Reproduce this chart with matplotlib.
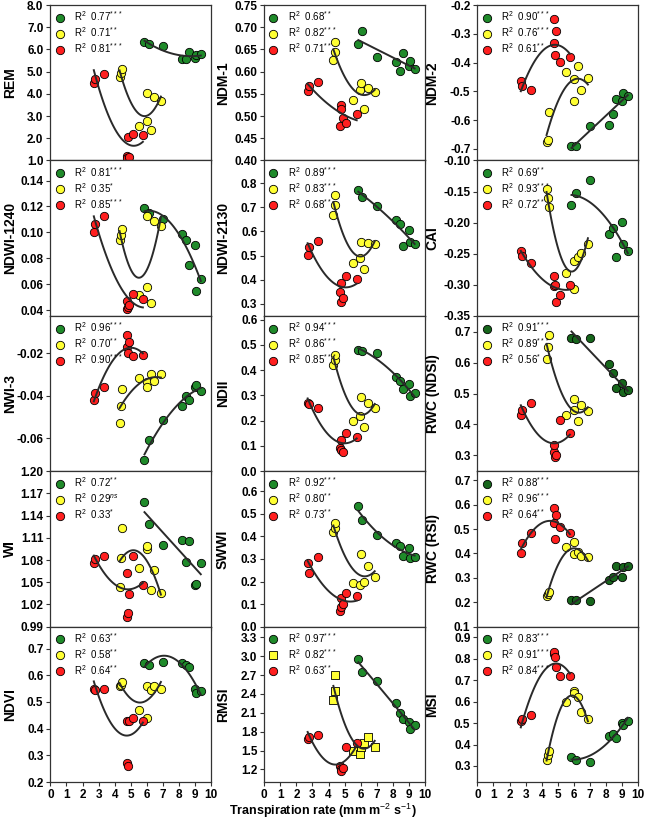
import matplotlib
matplotlib.use("Agg")
import matplotlib.pyplot as plt
import numpy as np
from matplotlib.lines import Line2D
from matplotlib.ticker import FormatStrFormatter

plt.rcParams['font.family'] = ['Liberation Sans', 'DejaVu Sans']
plt.rcParams['mathtext.fontset'] = 'custom'
plt.rcParams['mathtext.rm'] = 'Liberation Sans'
plt.rcParams['mathtext.it'] = 'Liberation Sans:italic'
plt.rcParams['mathtext.bf'] = 'Liberation Sans:bold'

# transpiration rate of the three groups (shared by all panels)
green_x = [5.85, 6.1, 7.0, 8.2, 8.45, 8.6, 9.0, 9.05, 9.35]
yellow_x = [4.3, 4.37, 4.43, 5.53, 5.98, 6.03, 6.23, 6.43, 6.87]
red_x = [2.7, 2.78, 3.36, 4.74, 4.77, 4.8, 4.89, 5.11, 5.75]

rem_g = [6.35, 6.25, 6.15, 5.55, 5.55, 5.9, 5.6, 5.75, 5.8]
rem_y = [4.75, 4.93, 5.12, 2.55, 2.78, 4.05, 2.38, 3.84, 3.67]
rem_r = [4.49, 4.69, 4.89, 1.19, 1.10, 2.04, 1.14, 2.21, 2.15]

ndm1_g = [0.662, 0.692, 0.632, 0.622, 0.602, 0.643, 0.613, 0.624, 0.605]
ndm1_y = [0.626, 0.645, 0.666, 0.536, 0.559, 0.575, 0.517, 0.564, 0.555]
ndm1_r = [0.557, 0.568, 0.577, 0.478, 0.524, 0.515, 0.496, 0.485, 0.504]

ndm2_g = [-0.69, -0.69, -0.62, -0.615, -0.58, -0.525, -0.535, -0.505, -0.515]
ndm2_y = [-0.675, -0.67, -0.573, -0.433, -0.534, -0.456, -0.413, -0.496, -0.454]
ndm2_r = [-0.463, -0.481, -0.496, -0.33, -0.25, -0.374, -0.289, -0.398, -0.382]

ndwi1240_g = [0.1186, 0.1147, 0.1104, 0.0988, 0.0944, 0.0748, 0.0905, 0.0550, 0.0642]
ndwi1240_y = [0.0941, 0.0982, 0.1024, 0.0513, 0.0575, 0.1124, 0.0454, 0.1086, 0.1052]
ndwi1240_r = [0.1006, 0.1065, 0.1124, 0.0467, 0.0405, 0.0425, 0.0439, 0.0524, 0.0488]

ndwi2130_g = [0.770, 0.742, 0.707, 0.648, 0.632, 0.538, 0.607, 0.558, 0.549]
ndwi2130_y = [0.669, 0.710, 0.749, 0.469, 0.491, 0.558, 0.445, 0.553, 0.547]
ndwi2130_r = [0.503, 0.535, 0.562, 0.348, 0.307, 0.387, 0.325, 0.416, 0.404]

cai_g = [-0.172, -0.152, -0.131, -0.219, -0.209, -0.255, -0.199, -0.235, -0.245]
cai_y = [-0.146, -0.161, -0.175, -0.281, -0.261, -0.307, -0.255, -0.249, -0.235]
cai_r = [-0.245, -0.254, -0.265, -0.286, -0.302, -0.300, -0.327, -0.317, -0.301]

nwi3_g = [-0.0705, -0.0611, -0.0517, -0.0448, -0.0400, -0.0420, -0.0360, -0.0348, -0.0380]
nwi3_y = [-0.0528, -0.0450, -0.0369, -0.0317, -0.0338, -0.0358, -0.0298, -0.0330, -0.0298]
nwi3_r = [-0.0419, -0.0389, -0.0358, -0.0173, -0.0116, -0.0200, -0.0147, -0.0216, -0.0208]

ndii_g = [0.479, 0.476, 0.470, 0.374, 0.358, 0.324, 0.345, 0.299, 0.311]
ndii_y = [0.420, 0.439, 0.461, 0.197, 0.220, 0.292, 0.176, 0.270, 0.250]
ndii_r = [0.272, 0.266, 0.250, 0.092, 0.124, 0.085, 0.078, 0.150, 0.137]

rwcn_g = [0.680, 0.678, 0.680, 0.596, 0.566, 0.517, 0.534, 0.506, 0.512]
rwcn_y = [0.612, 0.652, 0.690, 0.429, 0.447, 0.483, 0.410, 0.463, 0.445]
rwcn_r = [0.429, 0.448, 0.469, 0.309, 0.334, 0.295, 0.302, 0.415, 0.373]

wi_g = [1.158, 1.129, 1.101, 1.107, 1.077, 1.106, 1.046, 1.048, 1.076]
wi_y = [1.043, 1.083, 1.123, 1.069, 1.095, 1.099, 1.039, 1.066, 1.035]
wi_r = [1.076, 1.081, 1.086, 1.063, 1.003, 1.008, 1.034, 1.086, 1.046]

swwi_g = [0.533, 0.471, 0.407, 0.370, 0.356, 0.313, 0.348, 0.304, 0.309]
swwi_y = [0.419, 0.438, 0.459, 0.193, 0.186, 0.322, 0.196, 0.270, 0.218]
swwi_r = [0.281, 0.239, 0.307, 0.070, 0.126, 0.085, 0.100, 0.147, 0.134]

rwcr_g = [0.209, 0.209, 0.206, 0.292, 0.302, 0.349, 0.305, 0.346, 0.349]
rwcr_y = [0.226, 0.235, 0.243, 0.426, 0.398, 0.446, 0.405, 0.391, 0.384]
rwcr_r = [0.402, 0.443, 0.485, 0.588, 0.526, 0.460, 0.557, 0.508, 0.483]

ndvi_g = [0.645, 0.64, 0.65, 0.645, 0.64, 0.63, 0.55, 0.535, 0.54]
ndvi_y = [0.56, 0.565, 0.575, 0.47, 0.44, 0.56, 0.545, 0.56, 0.55]
ndvi_r = [0.55, 0.545, 0.55, 0.43, 0.27, 0.26, 0.43, 0.44, 0.43]

rmsi_g = [2.95, 2.75, 2.6, 2.25, 2.1, 2.0, 1.95, 1.85, 1.9]
rmsi_y = [2.3, 2.45, 2.7, 1.5, 1.45, 1.55, 1.62, 1.72, 1.55]
rmsi_r = [1.68, 1.72, 1.75, 1.25, 1.2, 1.17, 1.22, 1.55, 1.62]

msi_g = [0.34, 0.33, 0.32, 0.44, 0.45, 0.43, 0.50, 0.49, 0.51]
msi_y = [0.33, 0.35, 0.37, 0.60, 0.65, 0.64, 0.62, 0.55, 0.52]
msi_r = [0.51, 0.52, 0.54, 0.82, 0.83, 0.81, 0.76, 0.72, 0.72]

names = ['REM', 'NDM-1', 'NDM-2', 'NDWI-1240', 'NDWI-2130', 'CAI',
         'NWI-3', 'NDII', 'RWC (NDSI)', 'WI', 'SWWI', 'RWC (RSI)',
         'NDVI', 'RMSI', 'MSI']
r2_labels = [
    ['0.77$^{***}$', '0.71$^{**}$', '0.81$^{***}$'],
    ['0.68$^{**}$', '0.82$^{***}$', '0.71$^{**}$'],
    ['0.90$^{***}$', '0.76$^{***}$', '0.61$^{**}$'],
    ['0.81$^{***}$', '0.35$^{*}$', '0.85$^{***}$'],
    ['0.89$^{***}$', '0.83$^{***}$', '0.68$^{**}$'],
    ['0.69$^{**}$', '0.93$^{***}$', '0.72$^{**}$'],
    ['0.96$^{***}$', '0.70$^{**}$', '0.90$^{***}$'],
    ['0.94$^{***}$', '0.86$^{***}$', '0.85$^{***}$'],
    ['0.91$^{***}$', '0.89$^{***}$', '0.56$^{*}$'],
    ['0.72$^{**}$', '0.29$^{ns}$', '0.33$^{*}$'],
    ['0.92$^{***}$', '0.80$^{**}$', '0.73$^{**}$'],
    ['0.88$^{***}$', '0.96$^{***}$', '0.64$^{**}$'],
    ['0.63$^{**}$', '0.58$^{**}$', '0.64$^{**}$'],
    ['0.97$^{***}$', '0.82$^{***}$', '0.63$^{**}$'],
    ['0.83$^{***}$', '0.91$^{***}$', '0.84$^{***}$'],
]
values = [
    (rem_g, rem_y, rem_r), (ndm1_g, ndm1_y, ndm1_r), (ndm2_g, ndm2_y, ndm2_r),
    (ndwi1240_g, ndwi1240_y, ndwi1240_r), (ndwi2130_g, ndwi2130_y, ndwi2130_r),
    (cai_g, cai_y, cai_r), (nwi3_g, nwi3_y, nwi3_r), (ndii_g, ndii_y, ndii_r),
    (rwcn_g, rwcn_y, rwcn_r), (wi_g, wi_y, wi_r), (swwi_g, swwi_y, swwi_r),
    (rwcr_g, rwcr_y, rwcr_r), (ndvi_g, ndvi_y, ndvi_r), (rmsi_g, rmsi_y, rmsi_r),
    (msi_g, msi_y, msi_r),
]

# axis settings per panel: ylim, tick start/stop/step, format, fit degrees
ylims = [(1.0, 8.0), (0.40, 0.75), (-0.74, -0.2), (0.0355, 0.1555), (0.25, 0.894),
         (-0.35, -0.10), (-0.0756, -0.0025), (0.0, 0.615), (0.248, 0.752),
         (0.99, 1.20), (0.0, 0.689), (0.1, 0.737), (0.2, 0.782), (1.0, 3.47),
         (0.225, 0.95)]
yticks = [(1, 8, 1), (0.40, 0.75, 0.05), (-0.7, -0.2, 0.1), (0.04, 0.14, 0.02),
          (0.3, 0.8, 0.1), (-0.35, -0.10, 0.05), (-0.06, -0.02, 0.02),
          (0.0, 0.6, 0.1), (0.3, 0.7, 0.1), (0.99, 1.20, 0.03), (0.0, 0.6, 0.1),
          (0.1, 0.7, 0.1), (0.2, 0.7, 0.1), (1.2, 3.3, 0.3), (0.3, 0.9, 0.1)]
fmts = ['%.1f', '%.2f', '%.1f', '%.2f', '%.1f', '%.2f', '%.2f', '%.1f', '%.1f',
        '%.2f', '%.1f', '%.1f', '%.1f', '%.1f', '%.1f']
degrees = [(2, 2, 2), (1, 2, 2), (1, 2, 2), (2, 2, 2), (2, 2, 2), (2, 2, 2),
           (2, 2, 2), (2, 2, 2), (1, 2, 2), (1, 2, 2), (2, 2, 2), (1, 2, 2),
           (2, 2, 2), (2, 2, 2), (2, 2, 2)]

green = '#1f8a2a'
dark_green = '#17661c'
yellow = '#ffff33'
red = '#ff1f1f'
line_col = '#2a2a2a'

fig = plt.figure(figsize=(6.46, 8.23), dpi=100)
col_left = [0.078, 0.409, 0.739]
label_x = [-0.205, -0.215, -0.235]
row_bottom = [0.805, 0.6162, 0.4274, 0.2386, 0.0498]
w, h = 0.249, 0.1888

xs_all = (green_x, yellow_x, red_x)

for i, name in enumerate(names):
    r, c = divmod(i, 3)
    ax = fig.add_axes([col_left[c], row_bottom[r], w, h])
    gcol = dark_green if name.startswith('RWC') else green
    cols = (gcol, yellow, red)
    markers = ['o', 's' if name == 'RMSI' else 'o', 'o']
    handles = []
    for k in range(3):
        x = np.array(xs_all[k])
        y = np.array(values[i][k])
        ax.scatter(x, y, s=36, c=cols[k], marker=markers[k], edgecolors='black',
                   linewidths=0.6, zorder=2, clip_on=False)
        coef = np.polyfit(x, y, degrees[i][k])
        xx = np.linspace(x.min(), x.max(), 100)
        ax.plot(xx, np.polyval(coef, xx), color=line_col, lw=1.4, zorder=3)
        handles.append(Line2D([], [], ls='none', marker=markers[k], color=cols[k],
                              markeredgecolor='black', markeredgewidth=0.6,
                              markersize=6))
    labels = ['R$^2$  ' + t for t in r2_labels[i]]
    ax.legend(handles, labels, loc='upper left', frameon=False, fontsize=7,
              handletextpad=1.0, labelspacing=0.22, borderaxespad=0.2,
              handlelength=1.0, borderpad=0.25)

    ax.set_xlim(0, 10)
    ax.set_xticks(range(0, 11))
    ax.set_ylim(*ylims[i])
    t0, t1, st = yticks[i]
    ax.set_yticks(np.arange(t0, t1 + st / 2, st))
    ax.yaxis.set_major_formatter(FormatStrFormatter(fmts[i]))
    ax.tick_params(axis='both', direction='out', length=3, width=0.8,
                   colors='#333333', labelcolor='black')
    ax.tick_params(axis='y', labelsize=8.5, pad=2)
    for lab in ax.get_yticklabels():
        lab.set_fontweight('bold')
    if r == 4:
        ax.tick_params(axis='x', labelsize=8.5, pad=2)
        for lab in ax.get_xticklabels():
            lab.set_fontweight('bold')
    else:
        ax.tick_params(axis='x', labelbottom=False)
    for sp in ax.spines.values():
        sp.set_color('#333333')
        sp.set_linewidth(0.9)
    ax.set_ylabel(name, fontsize=10, fontweight='bold')
    ax.yaxis.set_label_coords(label_x[c], 0.5)

fig.text(0.5, 1 - 811 / 823, 'Transpiration rate (mm m$^{-2}$ s$^{-1}$)',
         ha='center', va='center', fontsize=9, fontweight='bold')

fig.savefig('out.png', dpi=100)
